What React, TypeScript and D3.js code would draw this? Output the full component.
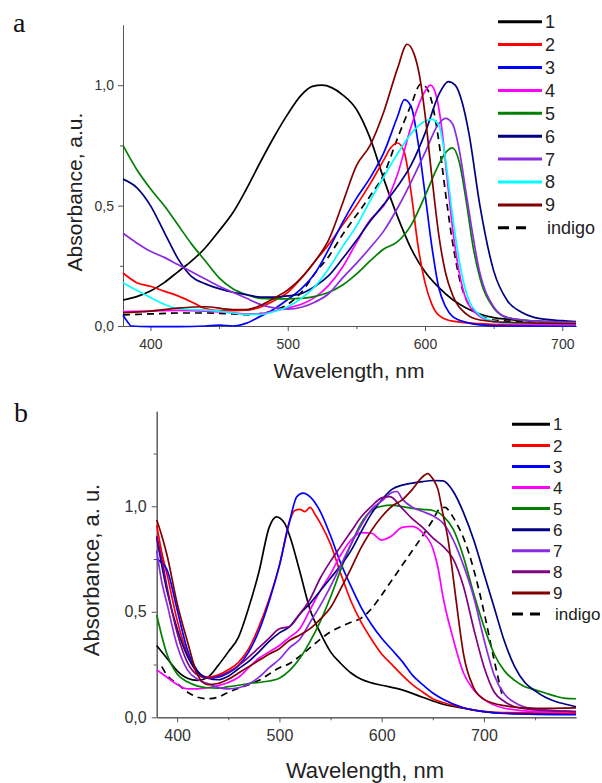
import React, { useEffect, useRef } from "react";
import * as d3 from "d3";

type Pt = [number, number];

// ---- panel a (wavelength nm, absorbance) ----
const a1: Pt[] = [[380,0.108],[390,0.122],[400,0.145],[410,0.18],[420,0.225],[430,0.27],[440,0.325],[450,0.395],[460,0.47],[470,0.57],[480,0.68],[490,0.785],[500,0.88],[510,0.96],[518,0.995],[525,1.0],[532,0.99],[540,0.96],[550,0.9],[560,0.78],[570,0.61],[580,0.454],[590,0.32],[600,0.225],[610,0.16],[620,0.11],[630,0.075],[640,0.05],[650,0.035],[660,0.028],[680,0.02],[710,0.015]];
const a2: Pt[] = [[380,0.22],[390,0.18],[400,0.165],[410,0.145],[420,0.125],[430,0.1],[440,0.072],[450,0.064],[460,0.064],[470,0.066],[480,0.078],[490,0.105],[500,0.14],[510,0.2],[520,0.27],[530,0.34],[540,0.42],[550,0.5],[560,0.59],[570,0.69],[575,0.74],[580,0.76],[585,0.72],[590,0.55],[595,0.33],[600,0.18],[605,0.09],[610,0.045],[620,0.02],[640,0.01],[660,0.005],[710,0.005]];
const a3: Pt[] = [[380,0.045],[383,0.02],[386,0.0],[400,-0.003],[420,-0.003],[440,0.0],[450,0.004],[460,0.0],[470,0.012],[480,0.04],[490,0.07],[500,0.11],[510,0.155],[520,0.22],[530,0.32],[540,0.43],[550,0.53],[560,0.615],[570,0.72],[580,0.87],[585,0.94],[590,0.91],[595,0.76],[600,0.55],[605,0.33],[610,0.16],[615,0.08],[620,0.04],[630,0.015],[640,0.005],[660,0.0],[710,0.0]];
const a4: Pt[] = [[380,0.06],[400,0.062],[420,0.065],[440,0.062],[460,0.055],[470,0.05],[480,0.052],[490,0.062],[500,0.075],[510,0.09],[520,0.12],[530,0.17],[540,0.245],[550,0.345],[560,0.44],[565,0.47],[570,0.5],[580,0.63],[590,0.83],[600,0.975],[604,1.0],[608,0.96],[612,0.83],[616,0.62],[620,0.41],[625,0.22],[630,0.11],[640,0.04],[650,0.018],[660,0.01],[710,0.005]];
const a5: Pt[] = [[380,0.75],[390,0.65],[400,0.57],[410,0.5],[420,0.42],[430,0.34],[440,0.27],[450,0.2],[460,0.155],[470,0.13],[480,0.115],[490,0.113],[500,0.113],[510,0.115],[520,0.123],[530,0.14],[540,0.17],[550,0.215],[560,0.27],[570,0.32],[580,0.35],[590,0.42],[600,0.54],[610,0.67],[615,0.72],[620,0.74],[625,0.68],[630,0.52],[635,0.33],[640,0.2],[650,0.075],[660,0.035],[680,0.02],[710,0.012]];
const a6: Pt[] = [[380,0.61],[390,0.575],[400,0.5],[410,0.39],[420,0.28],[430,0.205],[440,0.175],[450,0.155],[460,0.14],[470,0.13],[480,0.12],[490,0.12],[500,0.125],[510,0.135],[520,0.165],[530,0.21],[540,0.28],[550,0.355],[560,0.435],[570,0.505],[580,0.58],[590,0.67],[600,0.8],[610,0.96],[617,1.015],[622,1.0],[627,0.93],[632,0.8],[640,0.5],[650,0.23],[660,0.105],[670,0.058],[680,0.035],[700,0.022],[710,0.018]];
const a7: Pt[] = [[380,0.385],[390,0.345],[400,0.31],[410,0.285],[420,0.255],[430,0.225],[440,0.195],[450,0.165],[460,0.14],[470,0.115],[480,0.09],[490,0.075],[500,0.07],[510,0.078],[520,0.1],[530,0.135],[540,0.2],[550,0.26],[560,0.325],[570,0.395],[580,0.49],[590,0.6],[600,0.72],[610,0.84],[615,0.862],[620,0.84],[625,0.73],[630,0.55],[640,0.22],[650,0.08],[660,0.035],[680,0.02],[710,0.015]];
const a8: Pt[] = [[380,0.18],[390,0.148],[400,0.118],[410,0.09],[420,0.072],[430,0.068],[440,0.066],[450,0.062],[460,0.054],[470,0.048],[480,0.048],[490,0.06],[500,0.08],[510,0.115],[520,0.165],[530,0.24],[540,0.33],[550,0.415],[560,0.52],[570,0.62],[580,0.715],[590,0.8],[600,0.85],[605,0.858],[610,0.835],[615,0.69],[620,0.46],[625,0.27],[630,0.14],[640,0.045],[650,0.02],[660,0.012],[710,0.01]];
const a9: Pt[] = [[380,0.055],[400,0.062],[420,0.074],[440,0.08],[460,0.068],[470,0.068],[480,0.085],[490,0.115],[500,0.15],[510,0.2],[520,0.27],[530,0.36],[540,0.51],[550,0.665],[560,0.75],[570,0.89],[580,1.07],[587,1.17],[592,1.13],[596,1.04],[600,0.88],[605,0.62],[610,0.38],[615,0.22],[620,0.13],[630,0.05],[640,0.025],[660,0.015],[710,0.01]];
const aIndigo: Pt[] = [[380,0.046],[400,0.05],[420,0.054],[440,0.054],[460,0.05],[470,0.047],[480,0.052],[490,0.065],[500,0.09],[510,0.14],[520,0.22],[530,0.29],[540,0.38],[550,0.46],[560,0.54],[570,0.63],[580,0.78],[590,0.92],[597,1.005],[601,0.99],[605,0.93],[610,0.77],[615,0.55],[620,0.35],[625,0.2],[630,0.11],[640,0.045],[650,0.025],[670,0.018],[710,0.012]];

// ---- panel b ----
const b1: Pt[] = [[380,0.34],[390,0.28],[400,0.22],[410,0.185],[420,0.175],[430,0.19],[440,0.245],[450,0.31],[460,0.38],[470,0.52],[480,0.69],[490,0.9],[497,0.95],[505,0.92],[510,0.86],[520,0.69],[530,0.51],[540,0.4],[550,0.31],[560,0.255],[570,0.21],[580,0.18],[590,0.163],[600,0.152],[620,0.13],[640,0.095],[660,0.062],[680,0.043],[700,0.027],[720,0.02],[790,0.015]];
const b2: Pt[] = [[380,0.91],[385,0.78],[390,0.68],[400,0.46],[410,0.3],[420,0.21],[430,0.19],[440,0.2],[450,0.225],[460,0.26],[470,0.325],[480,0.43],[490,0.56],[500,0.72],[510,0.93],[515,0.98],[520,0.985],[525,0.975],[530,0.995],[535,0.96],[540,0.92],[550,0.82],[560,0.68],[570,0.55],[580,0.45],[590,0.37],[600,0.3],[610,0.25],[620,0.2],[630,0.155],[640,0.12],[650,0.088],[660,0.07],[680,0.045],[700,0.028],[720,0.022],[790,0.02]];
const b3: Pt[] = [[380,0.75],[390,0.7],[400,0.51],[410,0.32],[420,0.22],[430,0.185],[440,0.19],[450,0.21],[460,0.245],[470,0.31],[480,0.41],[490,0.55],[500,0.72],[510,0.93],[517,1.045],[523,1.062],[530,1.045],[540,0.975],[550,0.86],[560,0.73],[570,0.62],[580,0.52],[590,0.44],[600,0.375],[610,0.32],[620,0.265],[630,0.2],[640,0.155],[650,0.115],[660,0.085],[680,0.045],[700,0.027],[720,0.018],[790,0.012]];
const b4: Pt[] = [[380,0.225],[390,0.19],[400,0.155],[410,0.135],[420,0.135],[430,0.14],[440,0.15],[450,0.165],[460,0.19],[470,0.235],[480,0.28],[490,0.31],[500,0.34],[510,0.38],[520,0.42],[530,0.51],[540,0.6],[550,0.68],[560,0.77],[570,0.84],[580,0.875],[590,0.872],[600,0.84],[610,0.86],[620,0.9],[630,0.905],[640,0.875],[650,0.8],[655,0.71],[660,0.57],[670,0.37],[680,0.21],[690,0.13],[700,0.085],[720,0.043],[750,0.027],[790,0.025]];
const b5: Pt[] = [[380,0.485],[390,0.3],[400,0.205],[410,0.168],[420,0.148],[430,0.14],[440,0.138],[450,0.145],[460,0.152],[470,0.16],[480,0.165],[490,0.172],[500,0.185],[510,0.222],[520,0.28],[530,0.36],[540,0.455],[550,0.57],[560,0.7],[570,0.82],[580,0.92],[590,0.98],[600,1.0],[610,1.005],[620,0.998],[630,0.99],[640,0.985],[650,0.98],[660,0.955],[670,0.89],[680,0.76],[690,0.585],[700,0.43],[710,0.3],[720,0.22],[730,0.175],[740,0.145],[750,0.13],[760,0.115],[770,0.1],[780,0.09],[790,0.088]];
const b6: Pt[] = [[380,0.85],[385,0.72],[390,0.6],[400,0.42],[410,0.29],[420,0.215],[430,0.185],[440,0.178],[450,0.195],[460,0.23],[470,0.265],[480,0.31],[490,0.36],[500,0.4],[510,0.43],[520,0.49],[530,0.54],[540,0.6],[550,0.66],[560,0.72],[570,0.79],[580,0.88],[590,0.965],[600,1.03],[610,1.08],[620,1.1],[630,1.11],[640,1.117],[650,1.122],[660,1.12],[670,1.07],[680,0.97],[690,0.84],[700,0.68],[710,0.52],[720,0.36],[730,0.24],[740,0.165],[750,0.125],[760,0.095],[770,0.075],[780,0.062],[790,0.05]];
const b7: Pt[] = [[380,0.79],[385,0.64],[390,0.54],[400,0.34],[410,0.225],[420,0.18],[430,0.16],[440,0.142],[450,0.135],[460,0.14],[470,0.158],[480,0.19],[490,0.235],[500,0.275],[510,0.33],[520,0.37],[530,0.45],[540,0.53],[550,0.62],[560,0.72],[570,0.82],[580,0.91],[590,0.985],[600,1.025],[610,1.065],[615,1.07],[620,1.035],[630,0.995],[640,0.975],[650,0.955],[660,0.92],[670,0.84],[680,0.72],[690,0.57],[700,0.37],[710,0.2],[720,0.11],[730,0.07],[740,0.048],[760,0.035],[790,0.027]];
const b8: Pt[] = [[380,0.86],[385,0.75],[390,0.62],[400,0.4],[410,0.26],[420,0.2],[430,0.185],[440,0.195],[450,0.215],[460,0.245],[470,0.285],[480,0.33],[490,0.375],[500,0.42],[510,0.43],[520,0.49],[530,0.56],[540,0.66],[550,0.74],[560,0.81],[570,0.88],[580,0.95],[590,1.0],[600,1.04],[608,1.046],[620,0.99],[630,0.94],[640,0.9],[650,0.85],[660,0.81],[670,0.75],[680,0.62],[690,0.42],[700,0.24],[710,0.12],[720,0.075],[730,0.05],[750,0.035],[790,0.027]];
const b9: Pt[] = [[380,0.935],[385,0.86],[390,0.77],[400,0.54],[410,0.36],[420,0.2],[430,0.155],[440,0.16],[450,0.18],[460,0.21],[470,0.24],[480,0.27],[490,0.3],[500,0.325],[510,0.365],[520,0.39],[530,0.42],[540,0.465],[550,0.52],[560,0.61],[570,0.705],[580,0.805],[590,0.885],[600,0.95],[610,1.0],[620,1.03],[630,1.08],[640,1.14],[645,1.155],[650,1.13],[655,1.08],[660,0.96],[665,0.84],[670,0.66],[675,0.47],[680,0.3],[690,0.14],[700,0.085],[720,0.055],[750,0.042],[790,0.045]];
const bIndigo: Pt[] = [[385,0.24],[390,0.2],[400,0.16],[410,0.12],[420,0.095],[430,0.088],[440,0.095],[450,0.118],[460,0.138],[470,0.155],[480,0.175],[490,0.205],[500,0.235],[510,0.255],[520,0.29],[530,0.33],[540,0.37],[550,0.405],[560,0.43],[570,0.45],[580,0.47],[590,0.515],[600,0.58],[610,0.65],[620,0.72],[630,0.79],[640,0.86],[650,0.935],[657,0.99],[662,0.995],[667,0.97],[672,0.93],[680,0.85],[690,0.7],[700,0.5],[710,0.27],[718,0.1]];

const labels = ["1", "2", "3", "4", "5", "6", "7", "8", "9", "indigo"];
const colorsA = ["#000000", "#ff0000", "#0000ff", "#ff00ff", "#008000", "#000080", "#8a2be2", "#00ffff", "#800000", "#000000"];
const colorsB = ["#000000", "#ff0000", "#0000ff", "#ff00ff", "#008000", "#000080", "#8a2be2", "#800080", "#800000", "#000000"];

const seriesA = [a1, a2, a3, a4, a5, a6, a7, a8, a9, aIndigo];
const seriesB = [b1, b2, b3, b4, b5, b6, b7, b8, b9, bIndigo];

const xTicksA = [400, 500, 600, 700];
const xMinorA = [450, 550, 650];
const xTicksB = [400, 500, 600, 700];
const xMinorB = [450, 550, 650, 750];
const yTicks = [0, 0.5, 1.0];
const yMinorA = [0.25, 0.75];
const yMinorB = [0.25, 0.75, 1.25];

const sans = "'Liberation Sans', Arial, sans-serif";

function drawPanel(svg: any, cfg: any) {
  const x = d3.scaleLinear().domain(cfg.xDomain).range(cfg.xRange);
  const y = d3.scaleLinear().domain(cfg.yDomain).range(cfg.yRange);
  const g = svg.append("g");
  const fmtY = (d: number) => d3.format(".1f")(d).replace(".", ",");

  // minor ticks
  g.append("g")
    .attr("transform", `translate(0,${cfg.yRange[0]})`)
    .call(d3.axisBottom(x).tickValues(cfg.xMinor).tickSize(3).tickSizeOuter(0).tickFormat(() => ""));
  g.append("g")
    .attr("transform", `translate(${cfg.xRange[0]},0)`)
    .call(d3.axisLeft(y).tickValues(cfg.yMinor).tickSize(3).tickSizeOuter(0).tickFormat(() => ""));

  // major axes
  g.append("g")
    .attr("transform", `translate(0,${cfg.yRange[0]})`)
    .call(d3.axisBottom(x).tickValues(cfg.xTicks).tickSize(5).tickSizeOuter(0).tickPadding(cfg.xPad).tickFormat(d3.format("d")));
  g.append("g")
    .attr("transform", `translate(${cfg.xRange[0]},0)`)
    .call(d3.axisLeft(y).tickValues(yTicks).tickSize(5).tickSizeOuter(0).tickPadding(cfg.yPad).tickFormat(fmtY));

  g.selectAll(".domain").attr("stroke", "#555");
  g.selectAll(".tick line").attr("stroke", "#555");
  g.selectAll(".tick text")
    .attr("fill", "#333")
    .style("font-family", sans)
    .style("font-size", cfg.tickFont + "px");

  const line = d3.line<Pt>()
    .x((d) => x(d[0]))
    .y((d) => y(d[1]))
    .curve(d3.curveMonotoneX);

  // draw indigo first so coloured curves sit above, then 1..9
  const order = [9, 0, 1, 2, 3, 4, 5, 6, 7, 8];
  order.forEach((i) => {
    g.append("path")
      .datum(cfg.series[i])
      .attr("d", line)
      .attr("fill", "none")
      .attr("stroke", cfg.colors[i])
      .attr("stroke-width", 1.7)
      .attr("stroke-dasharray", i === 9 ? "7,5" : null);
  });

  // legend
  const leg = g.append("g");
  labels.forEach((lab, i) => {
    const ly = cfg.legY + i * cfg.legStep;
    leg.append("line")
      .attr("x1", cfg.legX0)
      .attr("x2", i === 9 ? cfg.legX0 + 28 : cfg.legX1)
      .attr("y1", ly)
      .attr("y2", ly)
      .attr("stroke", cfg.colors[i])
      .attr("stroke-width", 3)
      .attr("stroke-dasharray", i === 9 ? "11,7" : null);
    leg.append("text")
      .attr("x", i === 9 ? cfg.legTextX + 2 : cfg.legTextX)
      .attr("y", ly)
      .attr("dy", "0.36em")
      .attr("fill", "#222")
      .style("font-family", sans)
      .style("font-size", cfg.legFont + "px")
      .text(lab);
  });

  // axis titles
  g.append("text")
    .attr("x", cfg.xTitle[0])
    .attr("y", cfg.xTitle[1])
    .attr("text-anchor", "middle")
    .attr("fill", "#222")
    .style("font-family", sans)
    .style("font-size", cfg.titleFont + "px")
    .text("Wavelength, nm");
  g.append("text")
    .attr("transform", `translate(${cfg.yTitle[0]},${cfg.yTitle[1]}) rotate(-90)`)
    .attr("text-anchor", "middle")
    .attr("fill", "#222")
    .style("font-family", sans)
    .style("font-size", cfg.titleFont + "px")
    .text(cfg.yLabel);

  g.append("text")
    .attr("x", cfg.letter[0])
    .attr("y", cfg.letter[1])
    .attr("fill", "#111")
    .style("font-family", "'Liberation Serif', 'Times New Roman', serif")
    .style("font-size", "28px")
    .text(cfg.letterText);
}

export default function App() {
  const ref = useRef<SVGSVGElement>(null);

  useEffect(() => {
    const svg = d3.select(ref.current);
    svg.selectAll("*").remove();

    drawPanel(svg, {
      xDomain: [380, 710], xRange: [123, 576],
      yDomain: [0, 1.25], yRange: [326, 25],
      xTicks: xTicksA, xMinor: xMinorA, yMinor: yMinorA,
      xPad: 8, yPad: 4, tickFont: 14,
      series: seriesA, colors: colorsA,
      legX0: 498, legX1: 542, legTextX: 545, legY: 21.7, legStep: 22.9, legFont: 18,
      xTitle: [349, 378], yTitle: [82, 192], titleFont: 21, yLabel: "Absorbance, a.u.",
      letter: [13, 32], letterText: "a",
    });

    drawPanel(svg, {
      xDomain: [380, 790], xRange: [156.7, 576],
      yDomain: [0, 1.45], yRange: [717.3, 411.3],
      xTicks: xTicksB, xMinor: xMinorB, yMinor: yMinorB,
      xPad: 7, yPad: 5, tickFont: 16,
      series: seriesB, colors: colorsB,
      legX0: 512, legX1: 550, legTextX: 553, legY: 424.3, legStep: 21.08, legFont: 17,
      xTitle: [365, 778], yTitle: [99, 570], titleFont: 22, yLabel: "Absorbance, a. u.",
      letter: [14, 422], letterText: "b",
    });
  }, []);

  return (
    <svg
      ref={ref}
      width={602}
      height={783}
      style={{ position: "absolute", left: 0, top: 0, background: "#fff" }}
    />
  );
}
